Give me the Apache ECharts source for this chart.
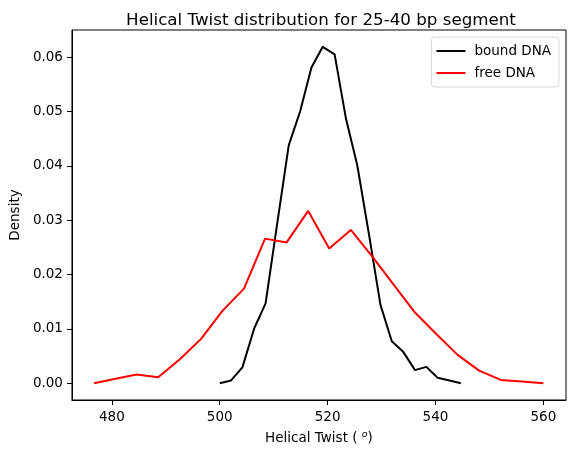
<!DOCTYPE html>
<html>
<head>
<meta charset="utf-8">
<script src="https://cdn.jsdelivr.net/npm/echarts@6/dist/echarts.min.js"></script>
<style>
  html, body { margin: 0; padding: 0; background: #fff; }
  #chart { width: 576px; height: 456px; }
</style>
</head>
<body>
<div id="chart"></div>
<script>
// bound DNA histogram density (x = bin centre, y = density)
var boundX = [500.0, 502.1, 504.2, 506.4, 508.5, 510.6, 512.8, 514.9, 517.0, 519.1, 521.3,
              523.4, 525.5, 527.7, 529.8, 531.9, 534.0, 536.2, 538.3, 540.4, 542.6, 544.7];
var boundY = [0.0000, 0.0005, 0.0029, 0.0101, 0.0147, 0.0290, 0.0438, 0.0500, 0.0581, 0.0619, 0.0605,
              0.0487, 0.0401, 0.0272, 0.0144, 0.0077, 0.0058, 0.0024, 0.0030, 0.0010, 0.0005, 0.0000];

// free DNA
var freeX = [476.7, 480.7, 484.6, 488.6, 492.6, 496.5, 500.5, 504.5, 508.4, 512.4, 516.4,
             520.3, 524.3, 528.3, 532.2, 536.2, 540.2, 544.1, 548.1, 552.1, 556.0, 560.0];
var freeY = [0.0000, 0.0008, 0.0016, 0.0011, 0.0044, 0.0081, 0.0133, 0.0174, 0.0266, 0.0259, 0.0317,
             0.0248, 0.0282, 0.0233, 0.0182, 0.0130, 0.0090, 0.0052, 0.0023, 0.0006, 0.0003, 0.0000];

var xTicks = [480, 500, 520, 540, 560];
var yTicks = [0, 0.01, 0.02, 0.03, 0.04, 0.05, 0.06];

function pairs(xs, ys) {
  return xs.map(function (x, i) { return [x, ys[i]]; });
}

var font = 'DejaVu Sans';
var chart = echarts.init(document.getElementById('chart'), null, { renderer: 'canvas' });

chart.setOption({
  animation: false,
  backgroundColor: '#fff',
  title: {
    text: 'Helical Twist distribution for 25-40 bp segment',
    left: 316,
    textAlign: 'center',
    top: 7,
    textStyle: { fontFamily: font, fontSize: 16.7, fontWeight: 'normal', color: '#000' }
  },
  legend: {
    right: 17,
    top: 37,
    orient: 'vertical',
    icon: 'rect',
    itemWidth: 29,
    itemHeight: 2,
    itemGap: 8,
    padding: [7, 8, 7, 5],
    borderColor: '#d8d8d8',
    borderWidth: 1,
    borderRadius: 3,
    textStyle: { fontFamily: font, fontSize: 13.5, color: '#000', padding: [0, 0, 0, 4] },
    data: ['bound DNA', 'free DNA']
  },
  grid: {
    left: 70,
    right: 10,
    top: 30,
    bottom: 56,
    show: true,
    borderColor: '#000',
    borderWidth: 1
  },
  xAxis: {
    type: 'value',
    min: 472.6,
    max: 564.2,
    name: 'Helical Twist ( {sup|o})',
    nameLocation: 'middle',
    nameGap: 30,
    nameTextStyle: {
      fontFamily: font, fontSize: 13.5, color: '#000',
      rich: { sup: { fontFamily: font, fontSize: 9.5, fontStyle: 'italic', verticalAlign: 'top', padding: [0, 0, 7, 0] } }
    },
    axisLine: { show: true, onZero: false, lineStyle: { color: '#000', width: 1 } },
    axisTick: { show: true, length: 5, customValues: xTicks, lineStyle: { color: '#000' } },
    axisLabel: { customValues: xTicks, margin: 10, fontFamily: font, fontSize: 13.5, color: '#000' },
    splitLine: { show: false }
  },
  yAxis: {
    type: 'value',
    min: -0.0031,
    max: 0.0650,
    name: 'Density',
    nameLocation: 'middle',
    nameGap: 45,
    nameTextStyle: { fontFamily: font, fontSize: 13.5, color: '#000' },
    axisLine: { show: true, onZero: false, lineStyle: { color: '#000', width: 1 } },
    axisTick: { show: true, length: 5, customValues: yTicks, lineStyle: { color: '#000' } },
    axisLabel: {
      customValues: yTicks, margin: 9, fontFamily: font, fontSize: 13.5, color: '#000',
      formatter: function (v) { return v.toFixed(2); }
    },
    splitLine: { show: false }
  },
  series: [
    {
      name: 'bound DNA',
      type: 'line',
      data: pairs(boundX, boundY),
      showSymbol: false,
      color: '#000000',
      lineStyle: { color: '#000000', width: 2 }
    },
    {
      name: 'free DNA',
      type: 'line',
      data: pairs(freeX, freeY),
      showSymbol: false,
      color: '#ff0000',
      lineStyle: { color: '#ff0000', width: 2 }
    }
  ]
});
</script>
</body>
</html>
